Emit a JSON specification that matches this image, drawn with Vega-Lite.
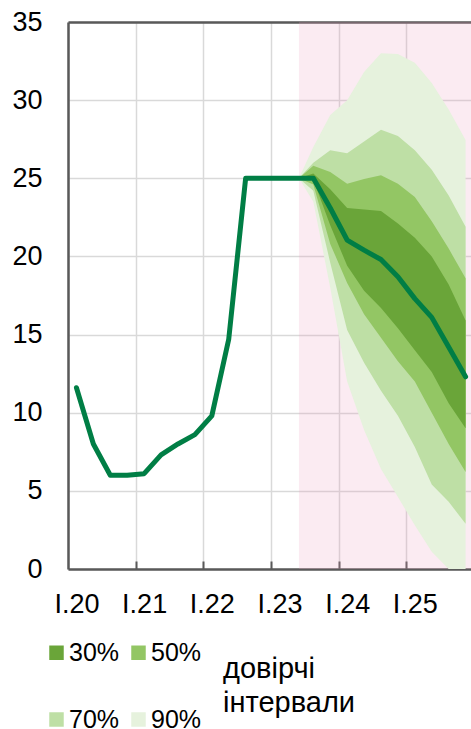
{
  "$schema": "https://vega.github.io/schema/vega-lite/v6.json",
  "width": 403,
  "height": 547,
  "autosize": {"type": "none"},
  "padding": {"left": 68, "top": 22, "right": 0, "bottom": 160},
  "background": "white",
  "datasets": {
    "shade": [{"start": 13.15, "end": 23.5}],
    "line": [
      {"t": 0, "v": 11.6}, {"t": 1, "v": 8.0}, {"t": 2, "v": 6.0}, {"t": 3, "v": 6.0},
      {"t": 4, "v": 6.1}, {"t": 5, "v": 7.3}, {"t": 6, "v": 8.0}, {"t": 7, "v": 8.6},
      {"t": 8, "v": 9.8}, {"t": 9, "v": 14.7}, {"t": 10, "v": 25}, {"t": 11, "v": 25},
      {"t": 12, "v": 25}, {"t": 13, "v": 25}, {"t": 14, "v": 25}, {"t": 15, "v": 23.1},
      {"t": 16, "v": 21.05}, {"t": 17, "v": 20.4}, {"t": 18, "v": 19.8}, {"t": 19, "v": 18.7},
      {"t": 20, "v": 17.3}, {"t": 21, "v": 16.1}, {"t": 22, "v": 14.2}, {"t": 23, "v": 12.3}
    ],
    "fan": [
      {"band": "90%", "t": 13.15, "lo": 25, "hi": 25},
      {"band": "90%", "t": 14, "lo": 23.5, "hi": 27.0},
      {"band": "90%", "t": 15, "lo": 18.0, "hi": 29.05},
      {"band": "90%", "t": 16, "lo": 12.0, "hi": 30.0},
      {"band": "90%", "t": 17, "lo": 8.9, "hi": 31.8},
      {"band": "90%", "t": 18, "lo": 6.4, "hi": 33.0},
      {"band": "90%", "t": 19, "lo": 4.6, "hi": 32.95},
      {"band": "90%", "t": 20, "lo": 2.8, "hi": 32.4},
      {"band": "90%", "t": 21, "lo": 1.1, "hi": 31.1},
      {"band": "90%", "t": 22, "lo": 0, "hi": 29.4},
      {"band": "90%", "t": 23, "lo": 0, "hi": 27.45},
      {"band": "70%", "t": 13.15, "lo": 25, "hi": 25},
      {"band": "70%", "t": 14, "lo": 24.2, "hi": 26.0},
      {"band": "70%", "t": 15, "lo": 19.6, "hi": 26.8},
      {"band": "70%", "t": 16, "lo": 15.3, "hi": 26.6},
      {"band": "70%", "t": 17, "lo": 13.2, "hi": 27.35},
      {"band": "70%", "t": 18, "lo": 11.4, "hi": 28.1},
      {"band": "70%", "t": 19, "lo": 9.8, "hi": 27.7},
      {"band": "70%", "t": 20, "lo": 7.8, "hi": 26.8},
      {"band": "70%", "t": 21, "lo": 5.4, "hi": 25.55},
      {"band": "70%", "t": 22, "lo": 4.3, "hi": 23.9},
      {"band": "70%", "t": 23, "lo": 2.9, "hi": 21.9},
      {"band": "50%", "t": 13.15, "lo": 25, "hi": 25},
      {"band": "50%", "t": 14, "lo": 24.6, "hi": 25.8},
      {"band": "50%", "t": 15, "lo": 20.8, "hi": 25.4},
      {"band": "50%", "t": 16, "lo": 18.3, "hi": 24.65},
      {"band": "50%", "t": 17, "lo": 16.3, "hi": 24.95},
      {"band": "50%", "t": 18, "lo": 14.8, "hi": 25.2},
      {"band": "50%", "t": 19, "lo": 13.3, "hi": 24.65},
      {"band": "50%", "t": 20, "lo": 12.0, "hi": 23.8},
      {"band": "50%", "t": 21, "lo": 10.0, "hi": 22.25},
      {"band": "50%", "t": 22, "lo": 8.0, "hi": 20.5},
      {"band": "50%", "t": 23, "lo": 6.2, "hi": 18.6},
      {"band": "30%", "t": 13.15, "lo": 25, "hi": 25},
      {"band": "30%", "t": 14, "lo": 24.9, "hi": 25.3},
      {"band": "30%", "t": 15, "lo": 22.0, "hi": 24.3},
      {"band": "30%", "t": 16, "lo": 19.4, "hi": 23.1},
      {"band": "30%", "t": 17, "lo": 17.8, "hi": 23.0},
      {"band": "30%", "t": 18, "lo": 16.7, "hi": 22.9},
      {"band": "30%", "t": 19, "lo": 15.4, "hi": 22.1},
      {"band": "30%", "t": 20, "lo": 14.0, "hi": 21.2},
      {"band": "30%", "t": 21, "lo": 12.6, "hi": 20.0},
      {"band": "30%", "t": 22, "lo": 10.6, "hi": 18.2},
      {"band": "30%", "t": 23, "lo": 9.0, "hi": 15.9}
    ]
  },
  "resolve": {"axis": {"x": "independent"}},
  "layer": [
    {
      "data": {"name": "shade"},
      "mark": {"type": "rect", "color": "#EB9BBE", "opacity": 0.2, "clip": true},
      "encoding": {
        "x": {"field": "start", "type": "quantitative",
              "scale": {"domain": [-0.5, 23.32], "nice": false, "zero": false},
              "axis": {"values": [-0.5, 3.5, 7.5, 11.5, 15.5, 19.5], "grid": true, "labels": false, "ticks": false, "domain": false, "title": null}},
        "x2": {"field": "end"}
      }
    },
    {
      "data": {"name": "fan"},
      "transform": [{"filter": "datum.band === '90%'"}],
      "mark": {"type": "area", "opacity": 1, "clip": true},
      "encoding": {
        "x": {"field": "t", "type": "quantitative",
              "axis": {"orient": "bottom", "values": [0, 4, 8, 12, 16, 20], "labelExpr": "'I.' + (20 + datum.value / 4)", "grid": false, "ticks": false, "domain": true, "labelPadding": 22, "labelFlush": false, "labelOverlap": false, "title": null}},
        "y": {"field": "hi", "type": "quantitative", "scale": {"domain": [0, 35], "nice": false},
              "axis": {"values": [0, 5, 10, 15, 20, 25, 30, 35], "grid": true, "ticks": false, "tickSize": 0, "labelPadding": 26, "domain": true, "title": null}},
        "y2": {"field": "lo"},
        "color": {"field": "band", "type": "nominal",
                  "scale": {"domain": ["30%", "50%", "70%", "90%"], "range": ["#6AA539", "#93C664", "#BEDFA5", "#E6F2DD"]},
                  "legend": {"orient": "none", "direction": "horizontal", "legendX": -24, "legendY": 618, "columns": 2, "symbolType": "square", "symbolSize": 210, "symbolStrokeWidth": 0, "symbolOpacity": 1,
                             "labelFontSize": 25, "labelFont": "Liberation Sans", "labelColor": "#000", "labelOffset": 0, "columnPadding": 6, "rowPadding": 41, "padding": 0,
                             "title": ["довірчі", "інтервали"], "titleOrient": "right", "titleAnchor": "middle", "titleFontSize": 29, "titleFontWeight": "normal", "titleFont": "Liberation Sans", "titleColor": "#000", "titlePadding": 22, "titleLineHeight": 34}}
      }
    },
    {
      "data": {"name": "fan"},
      "transform": [{"filter": "datum.band === '70%'"}],
      "mark": {"type": "area", "opacity": 1, "clip": true},
      "encoding": {
        "x": {"field": "t", "type": "quantitative",
              "axis": {"orient": "top", "labels": false, "ticks": false, "grid": false, "domain": true, "title": null}},
        "y": {"field": "hi", "type": "quantitative", "title": null},
        "y2": {"field": "lo"},
        "color": {"field": "band", "type": "nominal"}
      }
    },
    {
      "data": {"name": "fan"},
      "transform": [{"filter": "datum.band === '50%'"}],
      "mark": {"type": "area", "opacity": 1, "clip": true},
      "encoding": {
        "x": {"field": "t", "type": "quantitative",
              "axis": {"orient": "bottom", "values": [3.5, 7.5, 11.5, 15.5, 19.5], "offset": -8, "tickSize": 8, "ticks": true, "tickWidth": 2, "labels": false, "grid": false, "domain": false, "title": null}},
        "y": {"field": "hi", "type": "quantitative", "title": null},
        "y2": {"field": "lo"},
        "color": {"field": "band", "type": "nominal"}
      }
    },
    {
      "data": {"name": "fan"},
      "transform": [{"filter": "datum.band === '30%'"}],
      "mark": {"type": "area", "opacity": 1, "clip": true},
      "encoding": {
        "x": {"field": "t", "type": "quantitative", "axis": null},
        "y": {"field": "hi", "type": "quantitative", "title": null},
        "y2": {"field": "lo"},
        "color": {"field": "band", "type": "nominal"}
      }
    },
    {
      "data": {"name": "line"},
      "mark": {"type": "line", "color": "#007E45", "strokeWidth": 5, "strokeCap": "round", "strokeJoin": "round"},
      "encoding": {
        "x": {"field": "t", "type": "quantitative", "axis": null},
        "y": {"field": "v", "type": "quantitative", "title": null}
      }
    }
  ],
  "config": {
    "view": {"stroke": null},
    "font": "Liberation Sans",
    "axis": {"labelFont": "Liberation Sans", "labelFontSize": 27, "labelColor": "#000", "gridColor": "#D9D9D9", "gridWidth": 1.5, "domainColor": "#595959", "domainWidth": 2.5, "tickColor": "#595959"}
  }
}
